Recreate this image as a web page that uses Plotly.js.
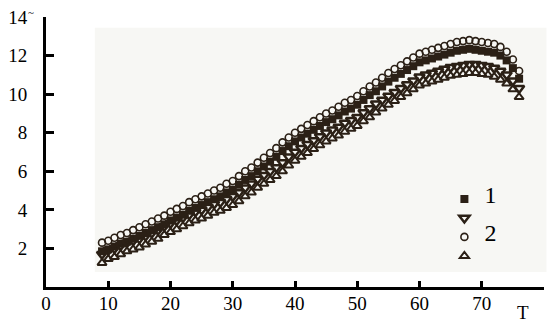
<!DOCTYPE html>
<html>
<head>
<meta charset="utf-8">
<script src="https://cdn.plot.ly/plotly-3.0.1.min.js"></script>
<style>html,body{margin:0;padding:0;background:#fff;}#chart{width:552px;height:322px;}</style>
</head>
<body>
<div id="chart"></div>
<script>
// T values (x) shared by all marker series
const xs = [9,10,11,12,13,14,15,16,17,18,19,20,21,22,23,24,25,26,27,28,29,30,31,32,33,34,35,36,37,38,39,40,41,42,43,44,45,46,47,48,49,50,51,52,53,54,55,56,57,58,59,60,61,62,63,64,65,66,67,68,69,70,71,72,73,74,75,76];

// series 1, filled squares (lower edge of upper band)
const s1Square = [1.85,1.95,2.1,2.25,2.35,2.5,2.65,2.8,2.95,3.1,3.25,3.45,3.6,3.75,3.95,4.1,4.25,4.4,4.55,4.7,4.9,5.05,5.3,5.55,5.75,6.0,6.25,6.5,6.75,7.05,7.3,7.55,7.75,7.95,8.15,8.35,8.55,8.7,8.9,9.1,9.25,9.45,9.7,9.95,10.15,10.4,10.65,10.85,11.05,11.25,11.45,11.65,11.75,11.85,11.95,12.05,12.15,12.25,12.3,12.35,12.3,12.25,12.2,12.15,12.0,11.75,11.35,10.8];
// series 1, down triangles (upper edge of lower band)
const s1TriDown = [1.7,1.9,2.0,2.15,2.3,2.4,2.5,2.65,2.8,2.95,3.15,3.3,3.45,3.6,3.75,3.9,4.0,4.15,4.3,4.4,4.55,4.7,4.9,5.15,5.35,5.6,5.8,6.0,6.2,6.45,6.75,7.0,7.2,7.4,7.6,7.8,8.0,8.15,8.3,8.5,8.65,8.8,9.05,9.25,9.5,9.7,9.9,10.1,10.3,10.5,10.7,10.9,11.0,11.1,11.2,11.3,11.4,11.45,11.5,11.55,11.55,11.5,11.45,11.35,11.2,11.0,10.7,10.3];
// series 2, open circles (upper edge of upper band)
const s2Circle = [2.3,2.4,2.55,2.7,2.8,2.95,3.1,3.25,3.4,3.55,3.7,3.9,4.05,4.2,4.4,4.55,4.7,4.85,5.0,5.15,5.35,5.5,5.75,6.0,6.2,6.45,6.7,6.95,7.2,7.5,7.75,8.0,8.2,8.4,8.6,8.8,9.0,9.15,9.35,9.55,9.7,9.9,10.15,10.4,10.6,10.85,11.1,11.3,11.5,11.7,11.9,12.1,12.2,12.3,12.4,12.5,12.6,12.7,12.75,12.8,12.75,12.7,12.65,12.6,12.45,12.2,11.8,11.2];
// series 2, up triangles (lower edge of lower band)
const s2TriUp = [1.25,1.45,1.55,1.7,1.85,1.95,2.05,2.2,2.35,2.5,2.7,2.85,3.0,3.15,3.3,3.45,3.55,3.7,3.85,3.95,4.1,4.25,4.45,4.7,4.9,5.15,5.35,5.55,5.75,6.0,6.3,6.55,6.75,6.95,7.15,7.35,7.55,7.7,7.85,8.05,8.2,8.35,8.6,8.8,9.05,9.25,9.45,9.65,9.85,10.05,10.25,10.45,10.55,10.65,10.75,10.85,10.95,11.0,11.05,11.1,11.1,11.05,11.0,10.9,10.75,10.55,10.25,9.85];

const xTicks = [0,10,20,30,40,50,60,70,80];
const yTicks = [2,4,6,8,10,12,14];

const ink = '#2b2016';
const serif = 'Liberation Serif';

const traces = [
  {x: xs, y: s1Square, name: '<span style="font-size:24px">1</span>', mode: 'markers', type: 'scatter',
   marker: {symbol: 'square', size: 8, color: ink, line: {width: 0}}},
  {x: xs, y: s1TriDown, name: ' ', mode: 'markers', type: 'scatter',
   marker: {symbol: 'triangle-down-open', size: 9, color: ink, line: {width: 2.5, color: ink}}},
  {x: xs, y: s2Circle, name: '<span style="font-size:24px">2</span>', mode: 'markers', type: 'scatter',
   marker: {symbol: 'circle-open', size: 7, color: ink, line: {width: 1.6, color: ink}}},
  {x: xs, y: s2TriUp, name: ' ', mode: 'markers', type: 'scatter',
   marker: {symbol: 'triangle-up-open', size: 8, color: ink, line: {width: 2, color: ink}}}
];

const layout = {
  width: 552, height: 322,
  margin: {l: 46, r: 8, t: 17, b: 35, pad: 0},
  paper_bgcolor: '#ffffff', plot_bgcolor: 'rgba(0,0,0,0)',
  font: {family: serif, size: 18, color: '#000'},
  showlegend: true,
  legend: {x: 0.8, xanchor: 'left', y: 0.38, yanchor: 'top', bgcolor: 'rgba(0,0,0,0)',
           font: {family: serif, size: 11, color: '#000'}, itemwidth: 30, tracegroupgap: 0},
  xaxis: {range: [0, 80], tickvals: xTicks, ticktext: xTicks.map(String), showgrid: false, zeroline: false,
          showline: true, linewidth: 3, linecolor: '#000', ticks: 'inside', ticklen: 6, tickwidth: 3, tickcolor: '#000',
          ticklabelstandoff: -3,
          tickfont: {family: serif, size: 19, color: '#000'}, fixedrange: true},
  yaxis: {range: [0, 14], tickvals: yTicks, ticktext: yTicks.map(String), showgrid: false, zeroline: false,
          showline: true, linewidth: 3, linecolor: '#000', ticks: 'inside', ticklen: 8, tickwidth: 3, tickcolor: '#000',
          ticklabelstandoff: 12,
          tickfont: {family: serif, size: 19, color: '#000'}, fixedrange: true},
  shapes: [{type: 'rect', xref: 'paper', yref: 'paper', x0: 0.098, x1: 1.005, y0: 0.056, y1: 0.96,
            fillcolor: '#f7f7f4', line: {width: 0}, layer: 'below'}],
  annotations: [
    {text: 'T', xref: 'paper', yref: 'paper', x: 0.958, y: -0.095, xanchor: 'center', yanchor: 'middle',
     showarrow: false, font: {family: serif, size: 19, color: '#000'}},
    {text: '~', xref: 'paper', yref: 'paper', x: -0.03, y: 1.02, xanchor: 'center', yanchor: 'middle',
     showarrow: false, font: {family: serif, size: 11, color: '#000'}}
  ]
};

Plotly.newPlot('chart', traces, layout, {staticPlot: true, displayModeBar: false});
</script>
</body>
</html>
